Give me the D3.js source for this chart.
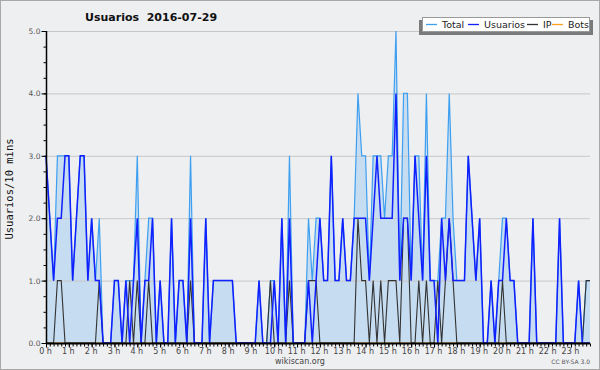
<!DOCTYPE html>
<html><head><meta charset="utf-8">
<script src="https://cdn.jsdelivr.net/npm/d3@7"></script>
<style>body{margin:0;background:#fff}svg{display:block}</style>
</head><body>
<svg id="c" width="600" height="370"></svg>
<script>
const title = "Usuarios  2016-07-29";
const hourLabels = d3.range(24).map(h => h + " h");
const yTicks = [0, 1, 2, 3, 4, 5];
const seriesNames = ["Total", "Usuarios", "IP", "Bots"];
const seriesColors = ["#3d9ff0", "#1020ff", "#333333", "#ffa020"];

const total = [
3,2,1,3,3,3,3,1,2,3,
3,1,2,1,2,0,0,0,1,1,
0,1,1,1,3,0,1,2,2,0,
1,0,0,2,0,1,1,0,3,0,
0,0,2,0,1,1,1,1,1,1,
0,0,0,0,0,0,1,0,0,1,
1,0,2,0,3,0,0,0,0,2,
1,2,2,1,1,3,1,1,2,1,
1,2,4,3,3,1,3,3,3,2,
3,3,5,1,4,4,1,3,3,1,
4,1,1,1,2,2,4,2,1,1,
1,3,2,1,2,0,0,1,0,1,
2,2,1,1,0,0,0,0,2,0,
0,0,0,0,0,2,0,0,0,0,
1,0,1,1];
const usuarios = [
3,2,1,2,2,3,3,1,2,3,
3,1,2,1,1,0,0,0,1,1,
0,1,0,1,2,0,1,1,2,0,
1,0,0,2,0,1,1,0,2,0,
0,0,2,0,1,1,1,1,1,1,
0,0,0,0,0,0,1,0,0,0,
1,0,2,0,2,0,0,0,0,1,
0,1,2,1,1,3,1,1,2,1,
1,2,2,2,2,1,2,3,2,2,
2,2,4,1,2,2,1,3,2,1,
3,1,1,0,2,1,2,1,1,1,
1,3,2,1,2,0,0,1,0,1,
1,2,1,1,0,0,0,0,2,0,
0,0,0,0,0,2,0,0,0,0,
1,0,0,0];
const ip = [
0,0,0,1,1,0,0,0,0,0,
0,0,0,0,1,0,0,0,0,0,
0,0,1,0,1,0,0,1,0,0,
0,0,0,0,0,0,0,0,1,0,
0,0,0,0,0,0,0,0,0,0,
0,0,0,0,0,0,0,0,0,1,
0,0,0,0,1,0,0,0,0,1,
1,1,0,0,0,0,0,0,0,0,
0,0,2,1,1,0,1,0,1,0,
1,1,1,0,2,2,0,0,1,0,
1,0,0,1,0,1,2,1,0,0,
0,0,0,0,0,0,0,0,0,0,
1,0,0,0,0,0,0,0,0,0,
0,0,0,0,0,0,0,0,0,0,
0,0,1,1];
const bots = new Array(144).fill(0);

const svg = d3.select("#c");
const W = 600, H = 370;
const m = {l: 46, r: 590, t: 31, b: 343};

svg.append("rect").attr("x", 0.5).attr("y", 0.5).attr("width", W - 1).attr("height", H - 1)
  .attr("fill", "#eeeff1").attr("stroke", "#a8a8a8");

const x = d3.scaleLinear().domain([0, total.length - 1]).range([m.l, m.r]);
const y = d3.scaleLinear().domain([0, 5]).range([m.b, m.t]);

// fill
svg.append("path").datum(total)
  .attr("d", d3.area().x((d, i) => x(i)).y0(y(0)).y1(d => y(d)))
  .attr("fill", "#c6dcf0");

// grid
svg.append("g").selectAll("line").data(yTicks.filter(v => v > 0)).join("line")
  .attr("x1", m.l).attr("x2", m.r).attr("y1", d => y(d) + 0.5).attr("y2", d => y(d) + 0.5)
  .attr("stroke", "#c8c8c8").attr("stroke-width", 1);

const line = d3.line().x((d, i) => x(i)).y(d => y(d));
[[bots, seriesColors[3], 1], [total, seriesColors[0], 1.2], [ip, seriesColors[2], 1.1], [usuarios, seriesColors[1], 1.5]]
  .forEach(([data, col, w]) => {
    svg.append("path").datum(data).attr("d", line).attr("fill", "none")
      .attr("stroke", col).attr("stroke-width", w).attr("stroke-linejoin", "miter");
  });

// y axis
const ya = svg.append("g").attr("transform", `translate(${m.l + 0.5},0)`)
  .call(d3.axisLeft(y).tickValues(d3.range(0, 5.001, 0.25)).tickSize(3).tickFormat(""));
ya.select(".domain").attr("stroke", "#000").attr("stroke-width", 1.5).attr("d", `M0,${m.t}V${m.b}`);
ya.selectAll(".tick line").attr("stroke", "#000");
const yl = svg.append("g").attr("transform", `translate(${m.l + 0.5},0)`)
  .call(d3.axisLeft(y).tickValues(yTicks).tickSize(5).tickFormat(d3.format(".1f")));
yl.select(".domain").remove();
yl.selectAll(".tick line").attr("stroke", "#000");
yl.selectAll(".tick text").attr("font-family", "DejaVu Sans").attr("font-size", 7.5)
  .attr("fill", "#555").attr("x", -6);

// x axis
const xa = svg.append("g").attr("transform", `translate(0,${m.b + 0.5})`)
  .call(d3.axisBottom(x).tickValues(d3.range(0, total.length)).tickSize(3).tickFormat(""));
xa.select(".domain").attr("stroke", "#000").attr("stroke-width", 2).attr("d", `M${m.l},0H${m.r}`);
xa.selectAll(".tick line").attr("stroke", "#000");
const xl = svg.append("g").attr("transform", `translate(0,${m.b + 0.5})`)
  .call(d3.axisBottom(x).tickValues(d3.range(0, 24).map(h => h * 6)).tickSize(4)
    .tickFormat((d, i) => hourLabels[i]));
xl.select(".domain").remove();
xl.selectAll(".tick line").attr("stroke", "#000");
xl.selectAll(".tick text").attr("font-family", "DejaVu Sans").attr("font-size", 8)
  .attr("fill", "#444").attr("y", 5).attr("dx", -1);

// title
svg.append("text").attr("x", 85).attr("y", 21).attr("font-family", "DejaVu Sans")
  .attr("font-weight", "bold").attr("font-size", 11).attr("fill", "#111")
  .style("white-space", "pre").text(title);

// y title
svg.append("text").attr("transform", "translate(13,189) rotate(-90)").attr("text-anchor", "middle")
  .attr("font-family", "DejaVu Sans Mono").attr("font-size", 10.5).attr("fill", "#111")
  .text("Usuarios/10 mins");

// footer
svg.append("text").attr("x", 300).attr("y", 364).attr("text-anchor", "middle")
  .attr("font-family", "DejaVu Sans").attr("font-size", 8).attr("fill", "#444").text("wikiscan.org");
svg.append("text").attr("x", 590).attr("y", 364).attr("text-anchor", "end")
  .attr("font-family", "DejaVu Sans").attr("font-size", 6).attr("fill", "#555").text("CC BY-SA 3.0");

// legend
const lg = svg.append("g");
lg.append("rect").attr("x", 419).attr("y", 20).attr("width", 174).attr("height", 15).attr("fill", "#7a7a7a");
lg.append("rect").attr("x", 422.5).attr("y", 17.5).attr("width", 167).attr("height", 14)
  .attr("fill", "#fff").attr("stroke", "#999");
const lx = [426, 468, 527, 552];
seriesNames.forEach((n, i) => {
  lg.append("line").attr("x1", lx[i]).attr("x2", lx[i] + 11).attr("y1", 24.5).attr("y2", 24.5)
    .attr("stroke", seriesColors[i]).attr("stroke-width", 1.3);
  lg.append("text").attr("x", lx[i] + 16).attr("y", 28).attr("font-family", "DejaVu Sans")
    .attr("font-size", 9.5).attr("fill", "#222").text(n);
});
</script>
</body></html>
